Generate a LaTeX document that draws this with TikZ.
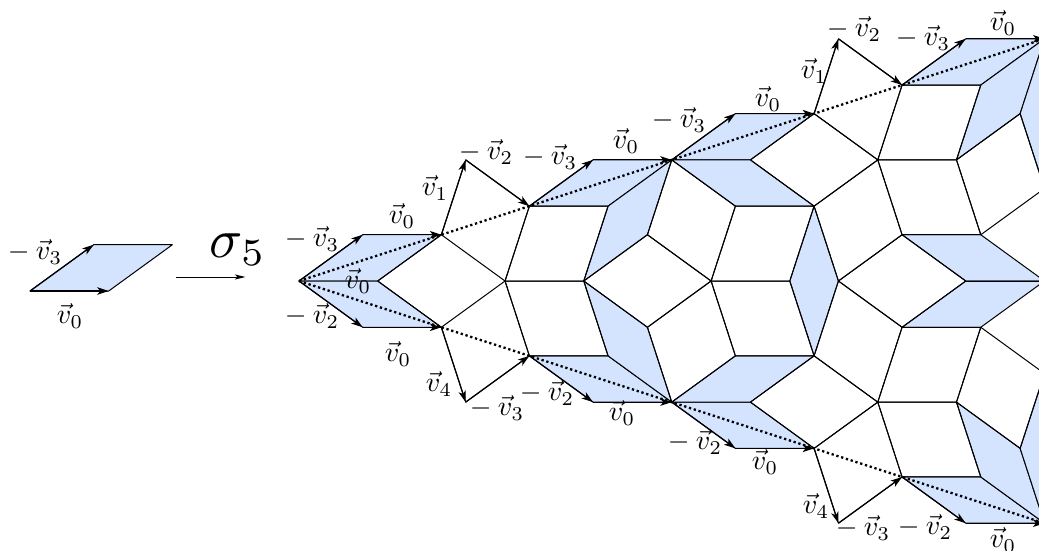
\documentclass[tikz,border=0pt]{standalone}
\usetikzlibrary{arrows.meta}
\definecolor{tile}{RGB}{212,228,254}
\tikzset{
  edge/.style={draw=black,line width=1pt,line join=round},
  bluetile/.style={edge,fill=tile},
  vecarrow/.style={line width=1.2pt,-{Stealth[length=11.5pt,width=7.5pt,inset=3pt]}},
  dotline/.style={line width=2.3pt,dash pattern=on 2.3pt off 2.7pt},
  lab/.style={scale=2.8,inner sep=0pt},
  biglab/.style={scale=5.5,inner sep=0pt},
  flow/.style={line width=1pt,-{Stealth[length=10.5pt,width=5pt,inset=2.5pt]}}
}
\newcommand{\halftiling}{%
  \coordinate (O) at (299,281);
  \coordinate (A1) at (362.67,234.74);
  \coordinate (A2) at (441.37,234.74);
  \coordinate (A3) at (377.7,281);
  \coordinate (A4) at (505.04,281);
  \coordinate (B1) at (465.69,159.89);
  \coordinate (B2) at (529.36,206.15);
  \coordinate (B3) at (593.03,159.89);
  \coordinate (B4) at (671.73,159.89);
  \coordinate (B5) at (608.06,206.15);
  \coordinate (C1) at (583.74,281);
  \coordinate (C3) at (647.41,234.74);
  \coordinate (C4) at (711.08,281);
  \coordinate (D1) at (735.4,113.63);
  \coordinate (D2) at (814.1,113.63);
  \coordinate (D3) at (750.43,159.89);
  \coordinate (D4) at (814.1,206.15);
  \coordinate (D5) at (735.4,206.15);
  \coordinate (E1) at (789.78,281);
  \coordinate (E2) at (838.42,281);
  \coordinate (F1) at (838.42,38.78);
  \coordinate (F2) at (902.09,85.04);
  \coordinate (F3) at (965.76,38.78);
  \coordinate (F4) at (1044.46,38.78);
  \coordinate (F5) at (980.79,85.04);
  \coordinate (G1) at (877.77,159.89);
  \coordinate (G2) at (956.47,159.89);
  \coordinate (G4) at (1020.14,113.63);
  \coordinate (H1) at (902.09,234.74);
  \coordinate (H2) at (980.79,234.74);
  \coordinate (H4) at (965.76,281);
  \coordinate (H5) at (1044.46,281);
  \coordinate (J1) at (1044.46,188.48);
  \coordinate (J2) at (1068.78,113.63);
  % blue rhombs
  \path[bluetile] (O)--(A1)--(A2)--(A3)--cycle;
  \path[bluetile] (B2)--(B3)--(B4)--(B5)--cycle;
  \path[bluetile] (B5)--(B4)--(C3)--(C1)--cycle;
  \path[bluetile] (B4)--(D1)--(D2)--(D3)--cycle;
  \path[bluetile] (B4)--(D3)--(D4)--(D5)--cycle;
  \path[bluetile] (E1)--(D4)--(E2);
  \path[bluetile] (F2)--(F3)--(F4)--(F5)--cycle;
  \path[bluetile] (F5)--(F4)--(G4)--(G2)--cycle;
  \path[bluetile] (H1)--(H2)--(H5)--(H4)--cycle;
  \path[bluetile] (F4)--(J2)--(J1)--(G4)--cycle;
  % white rhombs
  \draw[edge] (A3)--(A2)--(A4);
  \draw[edge] (A2)--(B1)--(B2)--(A4);
  \draw[edge] (B2)--(B5)--(C1)--(A4)--cycle;
  \draw[edge] (C1)--(C3)--(C4);
  \draw[edge] (B4)--(D5)--(C4)--(C3)--cycle;
  \draw[edge] (D5)--(D4)--(E1)--(C4)--cycle;
  \draw[edge] (D3)--(D2)--(G1)--(D4)--cycle;
  \draw[edge] (D2)--(F1)--(F2)--(G1)--cycle;
  \draw[edge] (F2)--(F5)--(G2)--(G1)--cycle;
  \draw[edge] (G1)--(G2)--(H2)--(H1)--cycle;
  \draw[edge] (D4)--(G1)--(H1)--(E2)--cycle;
  \draw[edge] (E2)--(H1)--(H4);
  \draw[edge] (G2)--(G4)--(J1)--(H2)--cycle;
  \draw[edge] (H4)--(H5);
  % boundary
  \draw[dotline] (O)--(F4);
  \draw[vecarrow] (O)--(A1);
  \draw[vecarrow] (A1)--(A2);
  \draw[vecarrow] (A2)--(B1);
  \draw[vecarrow] (B1)--(B2);
  \draw[vecarrow] (B2)--(B3);
  \draw[vecarrow] (B3)--(B4);
  \draw[vecarrow] (B4)--(D1);
  \draw[vecarrow] (D1)--(D2);
  \draw[vecarrow] (D2)--(F1);
  \draw[vecarrow] (F1)--(F2);
  \draw[vecarrow] (F2)--(F3);
  \draw[vecarrow] (F3)--(F4);
}
\begin{document}
\begin{tikzpicture}[x=1pt,y=-1pt]
\useasboundingbox (0,0) rectangle (1039,550);
\clip (0,0) rectangle (1039,550);
% single tile
\coordinate (p0) at (30,291);
\coordinate (p1) at (93.67,244.74);
\coordinate (p2) at (172.37,244.74);
\coordinate (p3) at (108.7,291);
\path[bluetile] (p0)--(p1)--(p2)--(p3)--cycle;
\draw[vecarrow] (p0)--(p1);
\draw[vecarrow] (p0)--(p3);
\coordinate (s0) at (176,277);
\coordinate (s1) at (245.5,277);
\draw[flow] (s0)--(s1);
% tiling, upper half and its mirror image
\begin{scope}
  \halftiling
\end{scope}
\begin{scope}[shift={(0,562)},yscale=-1]
  \halftiling
\end{scope}
% labels
\node[lab] (l1) at (35,252) {$-\:\vec v_3$};
\node[lab] (l2) at (70,316) {$\vec v_0$};
\node[biglab] (sig) at (238,250) {$\sigma_5$};
\node[lab] (l3) at (312,239) {$-\:\vec v_3$};
\node[lab] (l4) at (312,316) {$-\:\vec v_2$};
\node[lab] (l5) at (358,281) {$\vec v_0$};
\node[lab] (u1) at (402,216) {$\vec v_0$};
\node[lab] (u2) at (435,188) {$\vec v_1$};
\node[lab] (u3) at (486,152) {$-\:\vec v_2$};
\node[lab] (u4) at (550,157) {$-\:\vec v_3$};
\node[lab] (u5) at (626,141) {$\vec v_0$};
\node[lab] (u6) at (679,120) {$-\:\vec v_3$};
\node[lab] (u7) at (768,99) {$\vec v_0$};
\node[lab] (u8) at (814,71) {$\vec v_1$};
\node[lab] (u9) at (854,29) {$-\:\vec v_2$};
\node[lab] (u10) at (923,38) {$-\:\vec v_3$};
\node[lab] (u11) at (1003,23) {$\vec v_0$};
\node[lab] (d1) at (398,354) {$\vec v_0$};
\node[lab] (d2) at (439,384) {$\vec v_4$};
\node[lab] (d3) at (497,408) {$-\:\vec v_3$};
\node[lab] (d4) at (547,393) {$-\:\vec v_2$};
\node[lab] (d5) at (622,413) {$\vec v_0$};
\node[lab] (d6) at (695,442) {$-\:\vec v_2$};
\node[lab] (d7) at (765,462) {$\vec v_0$};
\node[lab] (d8) at (816,506) {$\vec v_4$};
\node[lab] (d9) at (863,528) {$-\:\vec v_3$};
\node[lab] (d10) at (925,527) {$-\:\vec v_2$};
\node[lab] (d11) at (1003,540) {$\vec v_0$};
\end{tikzpicture}
\end{document}
